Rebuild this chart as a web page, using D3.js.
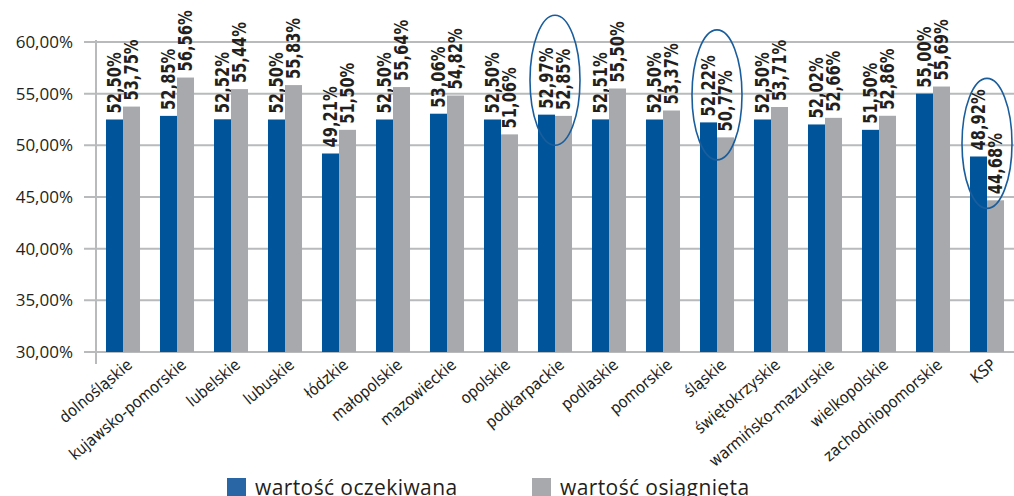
<!DOCTYPE html>
<html>
<head>
<meta charset="utf-8">
<script src="https://cdn.jsdelivr.net/npm/d3@7"></script>
<style>
  html, body { margin: 0; padding: 0; background: #fff; }
  svg { display: block; }
</style>
</head>
<body>
<svg id="chart" width="1014" height="496"></svg>
<script>
const categories = ["dolnośląskie","kujawsko-pomorskie","lubelskie","lubuskie","łódzkie","małopolskie","mazowieckie","opolskie","podkarpackie","podlaskie","pomorskie","śląskie","świętokrzyskie","warmińsko-mazurskie","wielkopolskie","zachodniopomorskie","KSP"];
const expected = [52.50,52.85,52.52,52.50,49.21,52.50,53.06,52.50,52.97,52.51,52.50,52.22,52.50,52.02,51.50,55.00,48.92];
const achieved = [53.75,56.56,55.44,55.83,51.50,55.64,54.82,51.06,52.85,55.50,53.37,50.77,53.71,52.66,52.86,55.69,44.68];
const seriesNames = ["wartość oczekiwana","wartość osiągnięta"];
const yTicks = [30,35,40,45,50,55,60];
const highlighted = ["podkarpackie","śląskie","KSP"];

const svg = d3.select("#chart");
const blue = "#00559a", gray = "#a7a9ac", grid = "#b9babc";
const labelFont = "'Liberation Sans Narrow','DejaVu Sans Condensed','Open Sans',sans-serif";
const fmt = v => v.toFixed(2).replace(".", ",") + "%";

const x = d3.scaleBand().domain(categories).range([96, 1014]).paddingInner(0.37).paddingOuter(0.185);
const xs = d3.scaleBand().domain([0,1]).range([0, x.bandwidth()]);
const y = d3.scaleLinear().domain([30, 60]).range([352, 42]);

// gridlines
svg.append("g").selectAll("line").data(yTicks).join("line")
  .attr("x1", 84).attr("x2", 1014)
  .attr("y1", d => y(d)).attr("y2", d => y(d))
  .attr("stroke", grid).attr("stroke-width", 2);
// vertical axis
svg.append("line").attr("x1", 96).attr("x2", 96).attr("y1", y(60) - 2).attr("y2", y(30) + 12)
  .attr("stroke", grid).attr("stroke-width", 2);

// y labels
svg.append("g").selectAll("text").data(yTicks).join("text")
  .attr("x", 73).attr("y", d => y(d)).attr("dy", "0.36em")
  .attr("text-anchor", "end")
  .attr("font-family", "'Open Sans',sans-serif").attr("font-size", 17)
  .attr("fill", "#231f20")
  .text(d => d.toFixed(2).replace(".", ",") + "%");

const series = [expected, achieved];
const colors = [blue, gray];
series.forEach((vals, si) => {
  const g = svg.append("g");
  g.selectAll("rect").data(vals).join("rect")
    .attr("x", (d, i) => x(categories[i]) + xs(si))
    .attr("width", xs.bandwidth())
    .attr("y", d => y(d))
    .attr("height", d => y(30) - y(d))
    .attr("fill", colors[si]);
  g.selectAll("text").data(vals).join("text")
    .attr("transform", (d, i) => `translate(${x(categories[i]) + xs(si) + xs.bandwidth() / 2},${y(d) - 6}) rotate(-90) scale(0.86,1)`)
    .attr("dy", "0.36em")
    .attr("text-anchor", "start")
    .attr("font-family", labelFont).attr("font-weight", "bold").attr("font-size", 19)
    .attr("fill", "#231f20")
    .text(d => fmt(d));
});

// x labels
svg.append("g").selectAll("text").data(categories).join("text")
  .attr("transform", d => `translate(${x(d) + x.bandwidth() / 2 + 3},${358}) rotate(-40)`)
  .attr("dy", "0.7em")
  .attr("text-anchor", "end")
  .attr("font-family", labelFont).attr("font-size", 16)
  .attr("fill", "#231f20")
  .text(d => d);

// highlight ellipses
svg.append("g").selectAll("ellipse").data(highlighted).join("ellipse")
  .attr("cx", d => x(d) + x.bandwidth() / 2)
  .attr("cy", d => { const i = categories.indexOf(d); return y((expected[i] + achieved[i]) / 2) - 35; })
  .attr("rx", 25).attr("ry", 65)
  .attr("fill", "none").attr("stroke", "#1a5d9c").attr("stroke-width", 1.6);

// legend
const legendX = [227, 532];
const legendColors = ["#2866a6", gray];
seriesNames.forEach((name, i) => {
  svg.append("rect").attr("x", legendX[i]).attr("y", 478).attr("width", 19).attr("height", 19).attr("fill", legendColors[i]);
  svg.append("text").attr("x", legendX[i] + 28).attr("y", 495)
    .attr("font-family", "'Open Sans',sans-serif").attr("font-size", 21)
    .attr("letter-spacing", "0.4px")
    .attr("fill", "#231f20").text(name);
});
</script>
</body>
</html>
